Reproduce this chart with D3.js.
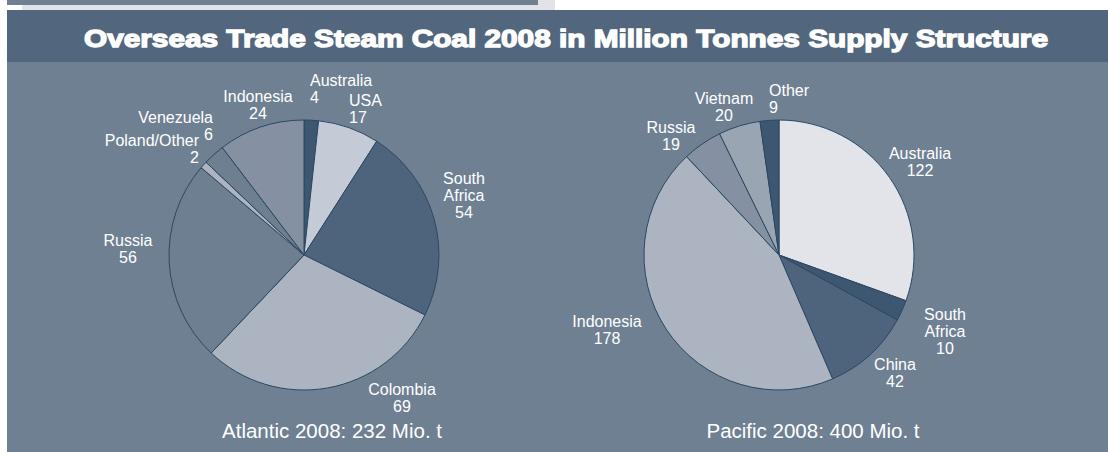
<!DOCTYPE html>
<html>
<head>
<meta charset="utf-8">
<script src="https://cdn.jsdelivr.net/npm/d3@7"></script>
<style>
  body { margin:0; background:#fff; }
  svg { display:block; font-family: "Liberation Sans", Arial, sans-serif; }
</style>
</head>
<body>
<svg id="chart" width="1108" height="452"></svg>
<script>
// data
var atlanticNames  = ["Australia", "USA", "South\nAfrica", "Colombia", "Russia", "Poland/Other", "Venezuela", "Indonesia"];
var atlanticValues = [4, 17, 54, 69, 56, 2, 6, 24];
var pacificNames   = ["Australia", "South\nAfrica", "China", "Indonesia", "Russia", "Vietnam", "Other"];
var pacificValues  = [122, 10, 42, 178, 19, 20, 9];

// styling
var atlanticColours = ["#3e5771", "#c5cbd6", "#4e647c", "#adb4c1", "#6e7f92", "#adb4c1", "#6e7f92", "#8591a2"];
var pacificColours  = ["#e3e4ea", "#3e5771", "#4e647c", "#adb4c1", "#8591a2", "#9aa5b3", "#3e5771"];
// label placement relative to the pie centre: [dx, dy, anchor]
var atlanticLabelPos = [[6,-169,"start"],[45,-149,"start"],[160,-71,"middle"],[98,140,"middle"],
                        [-176,-9,"middle"],[-105,-109,"end"],[-91,-132,"end"],[-46,-153,"middle"]];
var pacificLabelPos  = [[141,-96,"middle"],[166,65,"middle"],[116,115,"middle"],[-172,72,"middle"],
                        [-108,-122,"middle"],[-55,-151,"middle"],[-10,-159,"start"]];

var svg = d3.select("#chart");

// top strip bits
svg.append("rect").attr("x",7).attr("y",0).attr("width",548).attr("height",10).attr("fill","#e2e3e8");
svg.append("rect").attr("x",7).attr("y",0).attr("width",531).attr("height",5).attr("fill","#6f8093");
svg.append("rect").attr("x",7).attr("y",5).attr("width",15).attr("height",5).attr("fill","#ffffff");

// panels
svg.append("rect").attr("x",7).attr("y",62).attr("width",1101).attr("height",390).attr("fill","#6f8093");
svg.append("rect").attr("x",7).attr("y",10).attr("width",1101).attr("height",52).attr("fill","#52677e");

svg.append("text")
    .attr("x",566).attr("y",47)
    .attr("text-anchor","middle")
    .attr("font-size",24)
    .attr("font-weight","bold")
    .attr("fill","#fff")
    .attr("stroke","#fff").attr("stroke-width",1.3)
    .attr("textLength",964).attr("lengthAdjust","spacingAndGlyphs")
    .text("Overseas Trade Steam Coal 2008 in Million Tonnes Supply Structure");

function drawPie(cx, cy, r, names, values, colours, labelPos, caption, capX) {
    var g = svg.append("g").attr("transform","translate("+[cx,cy]+")");
    var pie = d3.pie().sort(null).value(function(d){ return d; });
    var arc = d3.arc().innerRadius(0).outerRadius(r);
    var arcs = pie(values);

    g.selectAll("path.slice")
        .data(arcs)
        .enter().append("path")
        .attr("class","slice")
        .attr("d", arc)
        .attr("fill", function(d,i){ return colours[i]; })
        .attr("stroke","#2c4862")
        .attr("stroke-width",1)
        .attr("stroke-linejoin","round");

    arcs.forEach(function(d,i){
        var p = labelPos[i];
        var lines = names[i].split("\n").concat([String(values[i])]);
        var t = g.append("text")
            .attr("text-anchor", p[2])
            .attr("font-size",16)
            .attr("fill","#fff");
        lines.forEach(function(s,k){
            t.append("tspan").attr("x",p[0]).attr("y",p[1] + k*16.8).text(s);
        });
    });

    var total = d3.sum(values);
    svg.append("text")
        .attr("x",capX).attr("y",438)
        .attr("text-anchor","middle")
        .attr("font-size",20.5)
        .attr("fill","#fff")
        .text(caption + " 2008: " + total + " Mio. t");
}

drawPie(304, 255, 135, atlanticNames, atlanticValues, atlanticColours, atlanticLabelPos, "Atlantic", 332);
drawPie(779, 255, 135, pacificNames, pacificValues, pacificColours, pacificLabelPos, "Pacific", 813);
</script>
</body>
</html>
